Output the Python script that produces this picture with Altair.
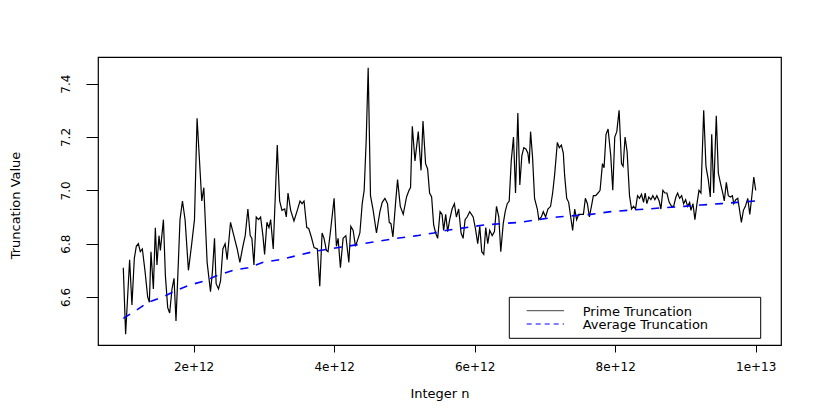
import altair as alt
import pandas as pd

# Prime truncation series (n in units of 1e12)
n_prime = [
    1.000, 1.033, 1.090, 1.123, 1.157, 1.185, 1.214, 1.242, 1.271, 1.308, 1.347, 1.371, 1.394, 1.428,
    1.456, 1.479, 1.508, 1.528, 1.571, 1.599, 1.632, 1.660, 1.693, 1.722, 1.750, 1.785, 1.807, 1.842,
    1.879, 1.927, 1.974, 2.013, 2.050, 2.117, 2.146, 2.193, 2.241, 2.270, 2.298, 2.321, 2.355, 2.384,
    2.417, 2.449, 2.478, 2.526, 2.573, 2.621, 2.659, 2.702, 2.735, 2.773, 2.806, 2.830, 2.859, 2.892,
    2.926, 2.954, 2.987, 3.011, 3.044, 3.073, 3.097, 3.134, 3.191, 3.225, 3.258, 3.297, 3.320, 3.344,
    3.382, 3.429, 3.476, 3.515, 3.544, 3.572, 3.611, 3.639, 3.676, 3.715, 3.762, 3.796, 3.829, 3.857,
    3.890, 3.914, 3.953, 4.000, 4.033, 4.057, 4.090, 4.128, 4.167, 4.210, 4.238, 4.271, 4.304, 4.342,
    4.367, 4.400, 4.428, 4.457, 4.485, 4.518, 4.556, 4.603, 4.652, 4.685, 4.723, 4.760, 4.785, 4.809,
    4.837, 4.874, 4.903, 4.942, 4.984, 5.031, 5.066, 5.088, 5.113, 5.151, 5.198, 5.237, 5.265, 5.302,
    5.331, 5.359, 5.388, 5.417, 5.445, 5.474, 5.508, 5.536, 5.559, 5.588, 5.616, 5.645, 5.679, 5.712,
    5.740, 5.773, 5.807, 5.836, 5.864, 5.893, 5.930, 5.979, 6.011, 6.044, 6.073, 6.101, 6.130, 6.158,
    6.187, 6.215, 6.250, 6.282, 6.311, 6.344, 6.372, 6.407, 6.435, 6.464, 6.492, 6.521, 6.553, 6.582,
    6.615, 6.643, 6.672, 6.700, 6.729, 6.757, 6.777, 6.796, 6.824, 6.853, 6.892, 6.914, 6.949, 6.977,
    7.010, 7.043, 7.081, 7.110, 7.139, 7.177, 7.205, 7.234, 7.262, 7.281, 7.310, 7.338, 7.367, 7.395,
    7.424, 7.452, 7.481, 7.509, 7.548, 7.576, 7.605, 7.633, 7.662, 7.690, 7.723, 7.756, 7.785, 7.819,
    7.842, 7.870, 7.899, 7.937, 7.966, 7.994, 8.023, 8.056, 8.090, 8.113, 8.141, 8.170, 8.204, 8.233,
    8.261, 8.290, 8.318, 8.347, 8.375, 8.404, 8.427, 8.451, 8.479, 8.508, 8.536, 8.565, 8.593, 8.626,
    8.651, 8.679, 8.708, 8.736, 8.769, 8.803, 8.832, 8.864, 8.889, 8.917, 8.946, 8.974, 9.003, 9.031,
    9.060, 9.078, 9.107, 9.135, 9.164, 9.193, 9.221, 9.260, 9.292, 9.325, 9.354, 9.374, 9.402, 9.439,
    9.468, 9.496, 9.531, 9.553, 9.582, 9.610, 9.639, 9.668, 9.688, 9.716, 9.745, 9.768, 9.796, 9.825,
    9.853, 9.887, 9.916, 9.944, 9.973, 10.000,
]
v_prime = [
    6.71, 6.46, 6.74, 6.57, 6.745, 6.79, 6.80, 6.77, 6.78, 6.70, 6.60, 6.58, 6.77, 6.63,
    6.86, 6.72, 6.83, 6.775, 6.89, 6.68, 6.56, 6.54, 6.63, 6.67, 6.51, 6.74, 6.89, 6.96,
    6.89, 6.70, 6.80, 6.89, 7.27, 6.96, 7.01, 6.73, 6.62, 6.70, 6.82, 6.65, 6.63, 6.66,
    6.78, 6.80, 6.74, 6.88, 6.83, 6.78, 6.73, 6.79, 6.83, 6.93, 6.83, 6.82, 6.72, 6.90,
    6.89, 6.90, 6.83, 6.76, 6.88, 6.86, 6.89, 6.78, 7.17, 6.96, 6.925, 6.93, 6.90, 6.99,
    6.925, 6.885, 6.925, 6.96, 6.95, 6.96, 6.86, 6.857, 6.825, 6.785, 6.78, 6.64, 6.84, 6.82,
    6.775, 6.77, 6.857, 6.97, 6.79, 6.82, 6.71, 6.82, 6.83, 6.73, 6.865, 6.85, 6.79, 6.82,
    6.84, 6.95, 7.00, 7.19, 7.46, 6.98, 6.925, 6.84, 6.92, 6.955, 6.97, 6.95, 6.88, 6.875,
    6.825, 6.95, 7.04, 6.94, 6.91, 6.975, 7.00, 7.01, 7.24, 7.11, 7.22, 7.075, 7.26, 7.10,
    7.08, 6.99, 6.975, 6.87, 6.84, 6.82, 6.92, 6.91, 6.85, 6.91, 6.845, 6.89, 6.93, 6.95,
    6.90, 6.93, 6.84, 6.82, 6.89, 6.90, 6.92, 6.90, 6.857, 6.80, 6.865, 6.77, 6.76, 6.86,
    6.80, 6.85, 6.83, 6.845, 6.94, 6.90, 6.77, 6.875, 6.92, 6.95, 6.96, 7.11, 7.20, 6.99,
    7.29, 7.02, 7.13, 7.16, 7.155, 7.14, 7.10, 7.22, 7.125, 6.97, 6.93, 6.89, 6.90, 6.92,
    6.90, 6.93, 6.94, 6.99, 7.06, 7.18, 7.16, 7.17, 7.14, 7.055, 6.97, 6.955, 6.90, 6.85,
    6.93, 6.89, 6.91, 6.91, 6.91, 6.97, 6.95, 6.90, 6.94, 6.98, 6.98, 6.99, 7.00, 7.10,
    7.085, 7.21, 7.23, 7.13, 7.00, 7.20, 7.22, 7.30, 7.10, 7.09, 7.20, 7.145, 6.98, 6.93,
    6.94, 6.93, 6.98, 6.97, 6.985, 6.955, 6.99, 6.95, 6.975, 6.965, 6.98, 6.965, 6.98, 6.96,
    6.93, 7.00, 6.99, 6.99, 6.955, 6.94, 6.94, 6.975, 6.99, 6.97, 6.98, 6.95, 6.965, 6.94,
    6.955, 6.925, 6.95, 6.89, 6.95, 7.00, 6.99, 7.30, 7.09, 7.04, 6.975, 7.21, 6.99, 7.28,
    7.065, 7.03, 6.99, 6.96, 7.03, 6.98, 6.975, 6.98, 6.95, 6.965, 6.97, 6.93, 6.88, 6.925,
    6.94, 6.97, 6.91, 6.975, 7.05, 7.00,
]

# Average truncation series (n in units of 1e12)
n_avg = [1.000, 1.185, 1.351, 1.565, 1.756, 1.946, 2.160, 2.327, 2.563, 2.777, 2.991, 3.230,
         3.705, 3.919, 4.181, 4.418, 4.656, 4.894, 5.180, 5.417, 5.608, 6.130, 6.368, 6.653,
         6.892, 7.177, 7.414, 7.652, 7.937, 8.175, 8.461, 8.698, 8.983, 9.221, 9.507, 9.745, 10.000]
v_avg = [6.52, 6.55, 6.58, 6.60, 6.625, 6.645, 6.66, 6.68, 6.70, 6.71, 6.73, 6.74,
         6.77, 6.78, 6.79, 6.80, 6.81, 6.82, 6.83, 6.84, 6.85, 6.87, 6.875, 6.88,
         6.89, 6.90, 6.905, 6.91, 6.92, 6.925, 6.93, 6.935, 6.94, 6.945, 6.95, 6.955, 6.96]

x_ticks = [2e12, 4e12, 6e12, 8e12, 1e13]
y_ticks = [6.6, 6.8, 7.0, 7.2, 7.4]
legend_labels = ["Prime Truncation", "Average Truncation"]

FONT = "DejaVu Sans"

prime_df = pd.DataFrame({"n": [v * 1e12 for v in n_prime], "value": v_prime})
avg_df = pd.DataFrame({"n": [v * 1e12 for v in n_avg], "value": v_avg})

x_scale = alt.Scale(domain=[0.64e12, 10.36e12], nice=False, zero=False)
y_scale = alt.Scale(domain=[6.42, 7.50], nice=False, zero=False)

x_axis = alt.Axis(
    values=x_ticks, title="Integer n", grid=False, domain=False,
    tickSize=7, tickColor="black", tickWidth=1,
    labelFont=FONT, labelFontSize=12, labelColor="black", labelPadding=9,
    labelExpr="datum.value >= 1e13 ? '1e+13' : format(datum.value / 1e12, 'd') + 'e+12'",
    titleFont=FONT, titleFontSize=13, titleFontWeight="normal", titleColor="black",
    titleX=341.5, titleY=48, titleBaseline="middle", titleAlign="center",
)
y_axis = alt.Axis(
    values=y_ticks, title="Truncation Value", grid=False, domain=False,
    tickSize=12, tickColor="black", tickWidth=1, format=".1f",
    labelFont=FONT, labelFontSize=12, labelColor="black", labelPadding=14,
    labelAngle=270, labelAlign="center", labelBaseline="bottom",
    titleFont=FONT, titleFontSize=13, titleFontWeight="normal", titleColor="black",
    titleX=-83, titleY=148, titleAngle=270, titleBaseline="middle", titleAlign="center",
)

prime_line = alt.Chart(prime_df).mark_line(color="black", strokeWidth=1.2).encode(
    x=alt.X("n:Q", scale=x_scale, axis=x_axis),
    y=alt.Y("value:Q", scale=y_scale, axis=y_axis),
)

avg_line = alt.Chart(avg_df).mark_line(color="#0000ff", strokeWidth=1.6, strokeDash=[8, 8]).encode(
    x=alt.X("n:Q", scale=x_scale),
    y=alt.Y("value:Q", scale=y_scale),
)

leg_df = pd.DataFrame({"k": [0]})
leg_box = alt.Chart(leg_df).mark_rect(fill="white", stroke="black", strokeWidth=1).encode(
    x=alt.value(411.3), x2=alt.value(662.7), y=alt.value(240.3), y2=alt.value(281.3)
)
leg_l1 = alt.Chart(leg_df).mark_rule(color="#444444", strokeWidth=1).encode(
    x=alt.value(428.7), x2=alt.value(466), y=alt.value(253.7)
)
leg_l2 = alt.Chart(leg_df).mark_rule(color="#0000ff", strokeWidth=1, strokeDash=[5, 4]).encode(
    x=alt.value(428.7), x2=alt.value(466), y=alt.value(267)
)
leg_t1 = alt.Chart(leg_df).mark_text(align="left", baseline="middle", font=FONT, fontSize=13, color="black").encode(
    x=alt.value(484.7), y=alt.value(254.5), text=alt.value(legend_labels[0])
)
leg_t2 = alt.Chart(leg_df).mark_text(align="left", baseline="middle", font=FONT, fontSize=13, color="black").encode(
    x=alt.value(484.7), y=alt.value(268), text=alt.value(legend_labels[1])
)

chart = alt.layer(prime_line, avg_line, leg_box, leg_l1, leg_l2, leg_t1, leg_t2).properties(
    width=683, height=288,
    padding={"left": 90, "top": 49, "right": 33, "bottom": 62},
    autosize=alt.AutoSizeParams(type="none"),
    background="white",
).configure_view(stroke="black", strokeWidth=1.2)

chart.save("out.html", embed_options={"renderer": "svg", "actions": False})
